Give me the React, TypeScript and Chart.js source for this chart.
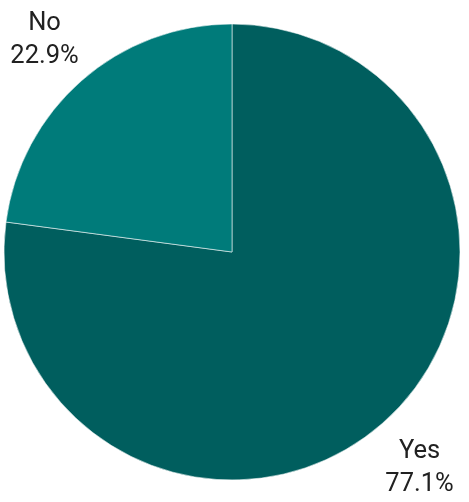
import React, { useEffect, useRef } from "react";
import { Chart, registerables } from "chart.js";

Chart.register(...registerables);

const categories = ["Yes", "No"];
const values = [77.1, 22.9];
const valueLabels = ["77.1%", "22.9%"];
const colors = ["#005e5e", "#007b7a"];

const labelPlugin = {
  id: "outerLabels",
  afterDraw(chart: any) {
    const ctx = chart.ctx;
    const meta = chart.getDatasetMeta(0);
    ctx.save();
    ctx.font = "25.5px Roboto";
    ctx.fillStyle = "#212121";
    ctx.textAlign = "center";
    ctx.textBaseline = "alphabetic";
    meta.data.forEach((arc: any, i: number) => {
      const p = arc.getProps(["x", "y", "startAngle", "endAngle", "outerRadius"], true);
      const mid = (p.startAngle + p.endAngle) / 2;
      const r = p.outerRadius * 1.248;
      const cx = p.x + Math.cos(mid) * r;
      const cy = p.y + Math.sin(mid) * r;
      ctx.fillText(categories[i], cx, cy - 8);
      ctx.fillText(valueLabels[i], cx, cy + 25);
    });
    ctx.restore();
  },
};

export default function App() {
  const ref = useRef<HTMLCanvasElement | null>(null);
  useEffect(() => {
    if (!ref.current) return;
    const chart = new Chart(ref.current, {
      type: "pie",
      data: {
        labels: categories,
        datasets: [
          {
            data: values,
            backgroundColor: colors,
            borderColor: "rgba(255,255,255,0.55)",
            borderWidth: 1,
          },
        ],
      },
      options: {
        animation: false,
        responsive: false,
        maintainAspectRatio: false,
        layout: { padding: { left: 3.5, right: 8.5, top: 23.5, bottom: 21.5 } },
        plugins: {
          legend: { display: false },
          tooltip: { enabled: false },
        },
      },
      plugins: [labelPlugin],
    });
    return () => chart.destroy();
  }, []);
  return (
    <div style={{ position: "absolute", left: 0, top: 0, width: 469, height: 502, background: "#fff" }}>
      <canvas ref={ref} width={469} height={502} style={{ display: "block", width: 469, height: 502 }} />
    </div>
  );
}
